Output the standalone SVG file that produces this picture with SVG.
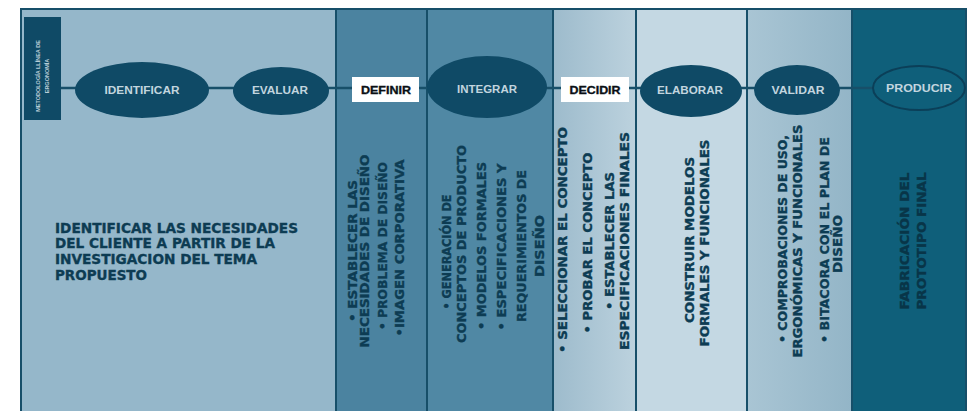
<svg xmlns="http://www.w3.org/2000/svg" width="970" height="411" viewBox="0 0 970 411">
<style>
.div{stroke:#174f69;stroke-width:2;fill:none}
.conn{stroke:#174f69;stroke-width:2.5;fill:none}
.ell{fill:#0f4a66}
.elab{font-family:"Liberation Sans",Arial,sans-serif;font-weight:bold;font-size:10px;fill:#c2d5df;text-anchor:middle}
.blab{font-family:"Liberation Sans",Arial,sans-serif;font-weight:900;font-size:10px;fill:#0a0f14;text-anchor:middle;stroke:#0a0f14;stroke-width:0.3}
.body{font-family:"DejaVu Sans",Verdana,sans-serif;font-weight:bold;font-size:12px;fill:#0d3c53;text-anchor:middle;stroke:#0d3c53;stroke-width:0.35}
.dark{fill:#083548;stroke:#083548}
.main{font-family:"DejaVu Sans",Verdana,sans-serif;font-weight:bold;font-size:13.5px;fill:#0d3c53;stroke:#0d3c53;stroke-width:0.35}
.vlab{font-family:"Liberation Sans",Arial,sans-serif;font-weight:bold;font-size:5.5px;fill:#b8cdd8;text-anchor:middle}
</style>
<defs>
<linearGradient id="g4" x1="0" y1="0" x2="1" y2="0">
<stop offset="0" stop-color="#9dbbcc"/><stop offset="1" stop-color="#bcd2de"/>
</linearGradient>
<linearGradient id="g6" x1="0" y1="0" x2="1" y2="0">
<stop offset="0" stop-color="#a9c5d4"/><stop offset="1" stop-color="#93b5c7"/>
</linearGradient>
</defs>
<rect width="970" height="411" fill="#ffffff"/>
<g id="columns">
<rect x="20" y="8" width="316" height="403" fill="#95b7ca"/>
<rect x="336" y="8" width="91" height="403" fill="#4b83a0"/>
<rect x="427" y="8" width="126" height="403" fill="#5088a4"/>
<rect x="553" y="8" width="83" height="403" fill="url(#g4)"/>
<rect x="636" y="8" width="111" height="403" fill="#c4d8e3"/>
<rect x="747" y="8" width="105" height="403" fill="url(#g6)"/>
<rect x="852" y="8" width="114" height="403" fill="#0f5f7a"/>
<path class="div" d="M20,9 H966 M21,8 V411 M336,8 V411 M427,8 V411 M553,8 V411 M636,8 V411 M747,8 V411 M852,8 V411 M966,8 V411"/>
</g>
<g id="connectors">
<path class="conn" d="M60,88 H880"/>
</g>
<g id="label-metodologia">
<rect x="24" y="17" width="37" height="103" fill="#0f4a66"/>
<text class="vlab" transform="translate(40,76) rotate(-90)">METODOLOGÍA LLÍNEA DE</text>
<text class="vlab" transform="translate(49,76) rotate(-90)">ERGONOMÍA</text>
</g>
<g id="identificar">
<ellipse class="ell" cx="142" cy="90" rx="67" ry="28"/>
<text class="elab" x="142" y="93.5" textLength="75" lengthAdjust="spacingAndGlyphs">IDENTIFICAR</text>
</g>
<g id="evaluar">
<ellipse class="ell" cx="281" cy="91" rx="48" ry="24"/>
<text class="elab" x="280" y="94" textLength="56" lengthAdjust="spacingAndGlyphs">EVALUAR</text>
</g>
<g id="definir">
<rect x="352" y="77" width="67" height="25" fill="#ffffff"/>
<text class="blab" x="386" y="94" textLength="50" lengthAdjust="spacingAndGlyphs">DEFINIR</text>
</g>
<g id="integrar">
<ellipse class="ell" cx="487" cy="87" rx="60" ry="31"/>
<text class="elab" x="487" y="93" font-weight="normal" textLength="60" lengthAdjust="spacingAndGlyphs">INTEGRAR</text>
</g>
<g id="decidir">
<rect x="561" y="77" width="68" height="25" fill="#ffffff"/>
<text class="blab" x="595" y="94" textLength="51" lengthAdjust="spacingAndGlyphs">DECIDIR</text>
</g>
<g id="elaborar">
<ellipse class="ell" cx="691" cy="91" rx="51" ry="26"/>
<text class="elab" x="690" y="94" textLength="66" lengthAdjust="spacingAndGlyphs">ELABORAR</text>
</g>
<g id="validar">
<ellipse class="ell" cx="797" cy="90" rx="43" ry="25"/>
<text class="elab" x="798" y="93.5" textLength="53" lengthAdjust="spacingAndGlyphs">VALIDAR</text>
</g>
<g id="producir">
<ellipse cx="919" cy="88" rx="46" ry="22" fill="#0f5f7a" stroke="#0b3f58" stroke-width="2"/>
<text class="elab" x="919" y="91.5" textLength="66" lengthAdjust="spacingAndGlyphs">PRODUCIR</text>
</g>
<g id="text-identificar">
<text class="main" x="55" y="233" textLength="243" lengthAdjust="spacingAndGlyphs">IDENTIFICAR LAS NECESIDADES</text>
<text class="main" x="55" y="248" textLength="220" lengthAdjust="spacingAndGlyphs">DEL CLIENTE A PARTIR DE LA</text>
<text class="main" x="55" y="264" textLength="202" lengthAdjust="spacingAndGlyphs">INVESTIGACION DEL TEMA</text>
<text class="main" x="55" y="280" textLength="92" lengthAdjust="spacingAndGlyphs">PROPUESTO</text>
</g>
<g id="text-definir">
<text class="body" transform="translate(357,251) rotate(-90)" textLength="142" lengthAdjust="spacingAndGlyphs">• ESTABLECER LAS</text>
<text class="body" transform="translate(369,251) rotate(-90)" textLength="193" lengthAdjust="spacingAndGlyphs">NECESIDADES DE DISEÑO</text>
<text class="body" transform="translate(387,246) rotate(-90)" textLength="168" lengthAdjust="spacingAndGlyphs">• PROBLEMA DE DISEÑO</text>
<text class="body" transform="translate(404,248) rotate(-90)" textLength="177" lengthAdjust="spacingAndGlyphs">•IMAGEN CORPORATIVA</text>
</g>
<g id="text-integrar">
<text class="body" transform="translate(451,252) rotate(-90)" textLength="115" lengthAdjust="spacingAndGlyphs">• GENERACIÓN DE</text>
<text class="body" transform="translate(466,244) rotate(-90)" textLength="198" lengthAdjust="spacingAndGlyphs">CONCEPTOS DE PRODUCTO</text>
<text class="body" transform="translate(486,246) rotate(-90)" textLength="168" lengthAdjust="spacingAndGlyphs">• MODELOS FORMALES</text>
<text class="body" transform="translate(506,247) rotate(-90)" textLength="167" lengthAdjust="spacingAndGlyphs">• ESPECIFICACIONES Y</text>
<text class="body" transform="translate(526,246) rotate(-90)" textLength="152" lengthAdjust="spacingAndGlyphs">REQUERIMIENTOS DE</text>
<text class="body" transform="translate(544,246) rotate(-90)" textLength="62" lengthAdjust="spacingAndGlyphs">DISEÑO</text>
</g>
<g id="text-decidir">
<text class="body" transform="translate(567,240) rotate(-90)" textLength="226" lengthAdjust="spacingAndGlyphs">• SELECCIONAR EL CONCEPTO</text>
<text class="body" transform="translate(592,243) rotate(-90)" textLength="181" lengthAdjust="spacingAndGlyphs">• PROBAR EL CONCEPTO</text>
<text class="body" transform="translate(614,241) rotate(-90)" textLength="138" lengthAdjust="spacingAndGlyphs">• ESTABLECER LAS</text>
<text class="body" transform="translate(629,241) rotate(-90)" textLength="218" lengthAdjust="spacingAndGlyphs">ESPECIFICACIONES FINALES</text>
</g>
<g id="text-elaborar">
<text class="body" transform="translate(694,240) rotate(-90)" textLength="166" lengthAdjust="spacingAndGlyphs">CONSTRUIR MODELOS</text>
<text class="body" transform="translate(709,243) rotate(-90)" textLength="207" lengthAdjust="spacingAndGlyphs">FORMALES Y FUNCIONALES</text>
</g>
<g id="text-validar">
<text class="body" transform="translate(787,239) rotate(-90)" textLength="208" lengthAdjust="spacingAndGlyphs">• COMPROBACIONES DE USO,</text>
<text class="body" transform="translate(802,241) rotate(-90)" textLength="233" lengthAdjust="spacingAndGlyphs">ERGONÓMICAS Y FUNCIONALES</text>
<text class="body" transform="translate(829,240) rotate(-90)" textLength="206" lengthAdjust="spacingAndGlyphs">• BITACORA CON EL PLAN DE</text>
<text class="body" transform="translate(842,244) rotate(-90)" textLength="58" lengthAdjust="spacingAndGlyphs">DISEÑO</text>
</g>
<g id="text-producir">
<text class="body dark" transform="translate(909,241) rotate(-90)" textLength="137" lengthAdjust="spacingAndGlyphs">FABRICACIÓN DEL</text>
<text class="body dark" transform="translate(926,241) rotate(-90)" textLength="137" lengthAdjust="spacingAndGlyphs">PROTOTIPO FINAL</text>
</g>
</svg>
